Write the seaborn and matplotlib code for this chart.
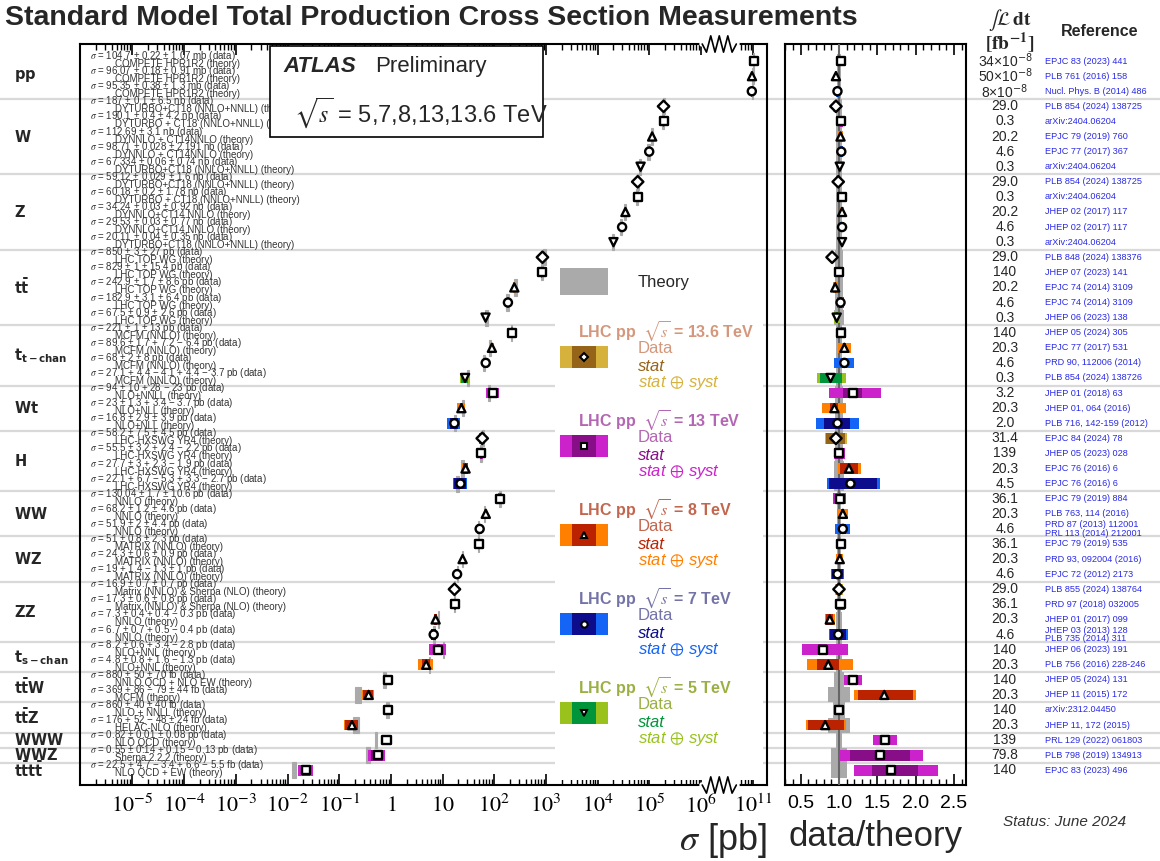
import numpy as np
import pandas as pd
import matplotlib
matplotlib.use("Agg")
import matplotlib.pyplot as plt
import seaborn as sns
from matplotlib.patches import Rectangle
from matplotlib.ticker import NullFormatter

# ---------------- data ----------------
groups = ["pp", "W", "Z", "tt", "tchan", "Wt", "H", "WW", "WZ", "ZZ",
          "schan", "ttW", "ttZ", "WWW", "WWZ", "tttt"]
group_labels = [r"$\mathbf{pp}$", r"$\mathbf{W}$", r"$\mathbf{Z}$", r"$\mathbf{t\bar{t}}$",
                r"$\mathbf{t_{t-chan}}$", r"$\mathbf{Wt}$", r"$\mathbf{H}$", r"$\mathbf{WW}$",
                r"$\mathbf{WZ}$", r"$\mathbf{ZZ}$", r"$\mathbf{t_{s-chan}}$", r"$\mathbf{t\bar{t}W}$",
                r"$\mathbf{t\bar{t}Z}$", r"$\mathbf{WWW}$", r"$\mathbf{WWZ}$",
                r"$\mathbf{t\bar{t}t\bar{t}}$"]
group_sizes = [3, 5, 5, 5, 4, 3, 4, 3, 3, 4, 2, 2, 2, 1, 1, 1]

energy = ["13", "8", "7",
          "13.6", "13", "8", "7", "5",
          "13.6", "13", "8", "7", "5",
          "13.6", "13", "8", "7", "5",
          "13", "8", "7", "5",
          "13", "8", "7",
          "13.6", "13", "8", "7",
          "13", "8", "7",
          "13", "8", "7",
          "13.6", "13", "8", "7",
          "13", "8",
          "13", "8",
          "13", "8",
          "13", "13", "13"]

sigma = [104.7, 96.07, 95.35,
         187, 190.1, 112.69, 98.71, 67.334,
         59.12, 60.18, 34.24, 29.53, 20.11,
         850, 829, 242.9, 182.9, 67.5,
         221, 89.6, 68, 27.1,
         94, 23, 16.8,
         58.2, 55.5, 27.7, 22.1,
         130.04, 68.2, 51.9,
         51, 24.3, 19,
         16.9, 17.3, 7.3, 6.7,
         8.2, 4.8,
         880, 369,
         860, 176,
         0.82, 0.55, 22.5]
unit = ["mb"] * 3 + ["nb"] * 10 + ["pb"] * 28 + ["fb"] * 4 + ["pb"] * 2 + ["fb"]

stat_up = [0.22, 0.18, 0.38, 0.1, 0.4, 0, 0.028, 0.06, 0.029, 0.2, 0.03, 0.03, 0.04,
           3, 1, 1.7, 3.1, 0.9, 1, 1.7, 2, 4.4, 10, 1.3, 2.9, 7.5, 3.2, 3, 6.7,
           1.7, 1.2, 2, 0.8, 0.6, 1.4, 0.7, 0.6, 0.4, 0.7, 0.6, 0.8, 50, 86, 40, 52,
           0.01, 0.14, 4.7]
stat_dn = [0.22, 0.18, 0.38, 0.1, 0.4, 0, 0.028, 0.06, 0.029, 0.2, 0.03, 0.03, 0.04,
           3, 1, 1.7, 3.1, 0.9, 1, 1.7, 2, 4.1, 10, 1.3, 2.9, 7.5, 3.2, 3, 5.3,
           1.7, 1.2, 2, 0.8, 0.6, 1.3, 0.7, 0.6, 0.4, 0.7, 0.6, 0.8, 50, 79, 40, 48,
           0.01, 0.14, 3.4]
syst_up = [1.07, 0.91, 1.3, 6.5, 4.2, 3.1, 2.191, 0.74, 1.6, 1.78, 0.92, 0.77, 0.35,
           27, 15.4, 8.6, 6.4, 2.6, 13, 7.2, 8, 4.4, 28, 3.4, 3.9, 4.5, 2.4, 2.3, 3.3,
           10.6, 4.6, 4.4, 2.3, 0.9, 1, 0.7, 0.8, 0.4, 0.5, 3.4, 1.6, 70, 44, 40, 24,
           0.08, 0.15, 6.6]
syst_dn = [1.07, 0.91, 1.3, 6.5, 4.2, 3.1, 2.191, 0.74, 1.6, 1.78, 0.92, 0.77, 0.35,
           27, 15.4, 8.6, 6.4, 2.6, 13, 6.4, 8, 3.7, 23, 3.7, 3.9, 4.5, 2.2, 1.9, 2.7,
           10.6, 4.6, 4.4, 2.3, 0.9, 1, 0.7, 0.8, 0.3, 0.4, 2.8, 1.3, 70, 44, 40, 24,
           0.08, 0.13, 5.5]

# data/theory and relative theory uncertainty
ratio = [1.03, 0.96, 0.98,
         0.96, 1.03, 1.02, 1.03, 1.01,
         0.99, 1.04, 1.04, 1.04, 1.04,
         0.91, 1.00, 0.95, 1.02, 0.97,
         1.03, 1.07, 1.07, 0.89,
         1.18, 0.94, 0.98,
         0.96, 1.00, 1.13, 1.15,
         1.01, 1.05, 1.05,
         1.03, 1.01, 0.98,
         1.00, 1.02, 0.88, 0.99,
         0.79, 0.86,
         1.18, 1.59,
         1.00, 0.82,
         1.60, 1.53, 1.68]
theory_unc = [0.03, 0.03, 0.03,
              0.045, 0.045, 0.045, 0.045, 0.045,
              0.045, 0.045, 0.045, 0.045, 0.045,
              0.055, 0.055, 0.055, 0.055, 0.06,
              0.04, 0.04, 0.04, 0.04,
              0.05, 0.05, 0.05,
              0.05, 0.05, 0.065, 0.06,
              0.03, 0.03, 0.03,
              0.03, 0.03, 0.03,
              0.03, 0.03, 0.04, 0.04,
              0.035, 0.035,
              0.07, 0.14,
              0.08, 0.14,
              0.04, 0.10, 0.10]

theory_names = (["COMPETE HPR1R2"] * 3 +
                ["DYTURBO+CT18 (NNLO+NNLL)", "DYTURBO + CT18 (NNLO+NNLL)", "DYNNLO + CT14NNLO",
                 "DYNNLO + CT14NNLO", "DYTURBO+CT18 (NNLO+NNLL)"] +
                ["DYTURBO+CT18 (NNLO+NNLL)", "DYTURBO + CT18 (NNLO+NNLL)", "DYNNLO+CT14 NNLO",
                 "DYNNLO+CT14 NNLO", "DYTURBO+CT18 (NNLO+NNLL)"] +
                ["LHC TOP WG"] * 5 + ["MCFM (NNLO)"] * 4 +
                ["NLO+NNLL", "NLO+NLL", "NLO+NLL"] + ["LHC-HXSWG YR4"] * 4 +
                ["NNLO"] * 3 + ["MATRIX (NNLO)"] * 3 +
                ["Matrix (NNLO) & Sherpa (NLO)"] * 2 + ["NNLO"] * 2 +
                ["NLO+NNL"] * 2 + ["NNLO QCD + NLO EW", "MCFM"] + ["NLO + NNLL", "HELAC-NLO"] +
                ["NLO QCD", "Sherpa 2.2.2", "NLO QCD + EW"])

lumi = ["34×10$^{-8}$", "50×10$^{-8}$", "8×10$^{-8}$",
        "29.0", "0.3", "20.2", "4.6", "0.3",
        "29.0", "0.3", "20.2", "4.6", "0.3",
        "29.0", "140", "20.2", "4.6", "0.3",
        "140", "20.3", "4.6", "0.3",
        "3.2", "20.3", "2.0",
        "31.4", "139", "20.3", "4.5",
        "36.1", "20.3", "4.6",
        "36.1", "20.3", "4.6",
        "29.0", "36.1", "20.3", "4.6",
        "140", "20.3",
        "140", "20.3",
        "140", "20.3",
        "139", "79.8", "140"]

references = ["EPJC 83 (2023) 441", "PLB 761 (2016) 158", "Nucl. Phys. B (2014) 486",
              "PLB 854 (2024) 138725", "arXiv:2404.06204", "EPJC 79 (2019) 760",
              "EPJC 77 (2017) 367", "arXiv:2404.06204",
              "PLB 854 (2024) 138725", "arXiv:2404.06204", "JHEP 02 (2017) 117",
              "JHEP 02 (2017) 117", "arXiv:2404.06204",
              "PLB 848 (2024) 138376", "JHEP 07 (2023) 141", "EPJC 74 (2014) 3109",
              "EPJC 74 (2014) 3109", "JHEP 06 (2023) 138",
              "JHEP 05 (2024) 305", "EPJC 77 (2017) 531", "PRD 90, 112006 (2014)",
              "PLB 854 (2024) 138726",
              "JHEP 01 (2018) 63", "JHEP 01, 064 (2016)", "PLB 716, 142-159 (2012)",
              "EPJC 84 (2024) 78", "JHEP 05 (2023) 028", "EPJC 76 (2016) 6", "EPJC 76 (2016) 6",
              "EPJC 79 (2019) 884", "PLB 763, 114 (2016)",
              "PRD 87 (2013) 112001\nPRL 113 (2014) 212001",
              "EPJC 79 (2019) 535", "PRD 93, 092004 (2016)", "EPJC 72 (2012) 2173",
              "PLB 855 (2024) 138764", "PRD 97 (2018) 032005", "JHEP 01 (2017) 099",
              "JHEP 03 (2013) 128\nPLB 735 (2014) 311",
              "JHEP 06 (2023) 191", "PLB 756 (2016) 228-246",
              "JHEP 05 (2024) 131", "JHEP 11 (2015) 172",
              "arXiv:2312.04450", "JHEP 11, 172 (2015)",
              "PRL 129 (2022) 061803", "PLB 798 (2019) 134913", "EPJC 83 (2023) 496"]

energies = ["13.6", "13", "8", "7", "5"]
markers = {"13.6": "D", "13": "s", "8": "^", "7": "o", "5": "v"}
syst_col = {"13.6": "#d6b23c", "13": "#cc22cc", "8": "#ff8000", "7": "#1464f5", "5": "#99c21d"}
stat_col = {"13.6": "#966419", "13": "#880e88", "8": "#bb2200", "7": "#0c0c8c", "5": "#00953a"}
title_col = {"13.6": "#d4977b", "13": "#b366b3", "8": "#c2664e", "7": "#7373a8", "5": "#9bb043"}
GREY = "#aaaaaa"

# ---------------- style ----------------
sns.set_theme(style="white")
plt.rcParams["font.family"] = ["Liberation Sans", "DejaVu Sans"]
plt.rcParams["mathtext.fontset"] = "stix"

df = pd.DataFrame({"group": np.repeat(groups, group_sizes), "energy": energy,
                   "sigma": sigma, "unit": unit, "stat_up": stat_up, "stat_dn": stat_dn,
                   "syst_up": syst_up, "syst_dn": syst_dn, "ratio": ratio,
                   "th_unc": theory_unc})
df["row"] = np.arange(len(df))
to_pb = df["unit"].map({"mb": 1e9, "nb": 1e3, "pb": 1.0, "fb": 1e-3})
# broken axis: 10^11 pb (pp) is drawn where 10^7 would sit
to_pb = to_pb.where(df["group"] != "pp", to_pb / 1e4)
df["x"] = df["sigma"] * to_pb
tot_up = np.hypot(df.stat_up, df.syst_up)
tot_dn = np.hypot(df.stat_dn, df.syst_dn)
theory = df.x / df.ratio


def err_str(up, dn):
    if up == 0 and dn == 0:
        return ""
    if up == dn:
        return f" ± {up:g}"
    return f" + {up:g} − {dn:g}"


W_PX, H_PX = 1160, 861
fig = plt.figure(figsize=(11.6, 8.61), dpi=100)
ax = fig.add_axes([80 / W_PX, 1 - 785 / H_PX, 687 / W_PX, 741 / H_PX])
axr = fig.add_axes([785 / W_PX, 1 - 785 / H_PX, 181 / W_PX, 741 / H_PX])
axr.patch.set_alpha(0)

MS = 34
MEW = 1.7

# ---------------- main panel ----------------
ax.set_xscale("log")
ax.barh(df.row, theory * 2 * df.th_unc, left=theory * (1 - df.th_unc), height=1.07,
        color=GREY, edgecolor=GREY, linewidth=0.8, zorder=2)
ax.barh(df.row, (tot_up + tot_dn) * to_pb, left=df.x - tot_dn * to_pb, height=0.7,
        color=df.energy.map(syst_col), linewidth=0, zorder=3)
ax.barh(df.row, (df.stat_up + df.stat_dn) * to_pb, left=df.x - df.stat_dn * to_pb, height=0.7,
        color=df.energy.map(stat_col), linewidth=0, zorder=4)
sns.scatterplot(data=df, x="x", y="row", style="energy", markers=markers,
                style_order=energies, s=MS, color="white", edgecolor="black",
                linewidth=MEW, legend=False, ax=ax, zorder=5)

ax.set_xlim(10 ** -6.015, 10 ** 7.273)
ax.set_ylim(47.97, -1.13)
ax.set_yticks([])
ax.set_ylabel("")
major = [10.0 ** k for k in range(-5, 8)]
major_labels = ([rf"$10^{{{k}}}$" for k in range(-5, 0)] + [r"$1$", r"$10$"] +
                [rf"$10^{{{k}}}$" for k in range(2, 7)] + [r"$10^{11}$"])
ax.set_xticks(major, major_labels)
minor = [m * 10.0 ** k for k in range(-6, 6) for m in range(2, 10)] + [6e6, 7e6, 8e6, 9e6]
ax.set_xticks(minor, minor=True)
ax.xaxis.set_minor_formatter(NullFormatter())
ax.tick_params(which="both", direction="in", top=True, bottom=True, left=False, right=False,
               colors="black", labelsize=16, pad=7)
ax.tick_params(which="major", length=8, width=1.2)
ax.tick_params(which="minor", length=4, width=1.0)
for sp in ax.spines.values():
    sp.set_color("black")
    sp.set_linewidth(1.5)
ax.set_xlabel(r"$\sigma$ [pb]", fontsize=26, loc="right", labelpad=2)

# axis break between 10^6 and 10^11
trans = ax.get_xaxis_transform()
xb = np.logspace(6.02, 6.68, 9)
for y0 in (0, 1):
    ax.plot([10 ** 6.01, 10 ** 6.69], [y0, y0], color="white", lw=4, transform=trans,
            clip_on=False, zorder=10)
    ax.plot(xb, y0 + np.array([0, -1, 1, -1, 1, -1, 1, -1, 0]) * 0.011, color="black",
            lw=1.2, transform=trans, clip_on=False, zorder=11)

# separators across the whole figure
bounds = np.cumsum(group_sizes)[:-1] - 0.5
ytr = ax.get_yaxis_transform()
for b in bounds:
    ax.plot([-80 / 687, 1080 / 687], [b, b], color="#d9d9d9", lw=1.6, transform=ytr,
            clip_on=False, zorder=0.5)

# process names and per-measurement text
start = np.concatenate([[0], np.cumsum(group_sizes)[:-1]])
for lab, s0, n in zip(group_labels, start, group_sizes):
    ax.text(-66 / 687, s0 + (n - 1) / 2, lab, transform=ytr, ha="left", va="center",
            fontsize=10.5, math_fontfamily="dejavusans", clip_on=False)
for i, r in df.iterrows():
    txt = (rf"$\sigma$ = {r.sigma:g}{err_str(r.stat_up, r.stat_dn)}"
           f"{err_str(r.syst_up, r.syst_dn)} {r.unit} (data)")
    ax.text(10 / 687, r.row - 0.33, txt, transform=ytr, ha="left", va="center",
            fontsize=7.0, color="#333333", zorder=1.5)
    ax.text(35 / 687, r.row + 0.2, theory_names[i] + " (theory)", transform=ytr,
            ha="left", va="center", fontsize=7.0, color="#333333", zorder=1.5)


def axc(px, py):
    return (px - 80) / 687, 1 - (py - 44) / 741


# ATLAS box
ax.add_patch(Rectangle(axc(270, 137), 273 / 687, 91 / 741, transform=ax.transAxes,
                       facecolor="white", edgecolor="black", lw=1.2, zorder=6))
ax.text(*axc(283, 67), "ATLAS", transform=ax.transAxes, fontsize=16, weight="bold",
        style="italic", va="center", zorder=7)
ax.text(*axc(375, 67), "Preliminary", transform=ax.transAxes, fontsize=16, va="center", zorder=7)
ax.text(*axc(294, 113), r"$\sqrt{s}$ = 5,7,8,13,13.6 TeV", transform=ax.transAxes,
        fontsize=17, va="center", zorder=7)

# legend
ax.add_patch(Rectangle(axc(555, 780), 208 / 687, 522 / 741, transform=ax.transAxes,
                       facecolor="white", edgecolor="none", zorder=6))
ax.add_patch(Rectangle(axc(560, 295), 48 / 687, 27 / 741, transform=ax.transAxes,
                       facecolor=GREY, edgecolor="none", zorder=7))
ax.text(*axc(638, 283), "Theory", transform=ax.transAxes, fontsize=12, va="center", zorder=7)
for k, e in enumerate(energies):
    dy = 89.1 * k
    ax.text(*axc(578, 331.5 + dy), rf"LHC pp  $\sqrt{{s}}$ = {e} TeV", transform=ax.transAxes,
            fontsize=11.5, weight="bold", color=title_col[e], va="center", zorder=7)
    ax.add_patch(Rectangle(axc(560, 368 + dy), 48 / 687, 22 / 741, transform=ax.transAxes,
                           facecolor=syst_col[e], edgecolor="none", zorder=7))
    ax.add_patch(Rectangle(axc(572, 368 + dy), 24 / 687, 22 / 741, transform=ax.transAxes,
                           facecolor=stat_col[e], edgecolor="none", zorder=7))
    ax.plot(*axc(584, 357 + dy), marker=markers[e], ms=4.5, mfc="white", mec="black",
            mew=1.5, transform=ax.transAxes, zorder=8)
    ax.text(*axc(638, 348.5 + dy), "Data", transform=ax.transAxes, fontsize=12,
            color=title_col[e], va="center", zorder=7)
    ax.text(*axc(638, 366.5 + dy), "stat", transform=ax.transAxes, fontsize=12,
            style="italic", color=stat_col[e], va="center", zorder=7)
    ax.text(*axc(638, 382.7 + dy), r"stat $\oplus$ syst", transform=ax.transAxes,
            fontsize=12, style="italic", color=syst_col[e], va="center", zorder=7)

# ---------------- ratio panel ----------------
axr.barh(df.row, 2 * df.th_unc, left=1 - df.th_unc, height=1.0, color=GREY, linewidth=0,
         zorder=2)
axr.axvline(1.0, color="#666666", lw=1.5, zorder=3)
axr.barh(df.row, df.ratio * (tot_up + tot_dn) / df.sigma,
         left=df.ratio * (1 - tot_dn / df.sigma), height=0.7,
         color=df.energy.map(syst_col), linewidth=0, zorder=4)
axr.barh(df.row, df.ratio * (df.stat_up + df.stat_dn) / df.sigma,
         left=df.ratio * (1 - df.stat_dn / df.sigma), height=0.7,
         color=df.energy.map(stat_col), linewidth=0, zorder=5)
sns.scatterplot(data=df, x="ratio", y="row", style="energy", markers=markers,
                style_order=energies, s=MS, color="white", edgecolor="black",
                linewidth=MEW, legend=False, ax=axr, zorder=6)
axr.set_xlim(0.296, 2.656)
axr.set_ylim(47.97, -1.13)
axr.set_yticks([])
axr.set_ylabel("")
axr.set_xticks([0.5, 1.0, 1.5, 2.0, 2.5])
axr.set_xticks(np.arange(0.3, 2.65, 0.1), minor=True)
axr.tick_params(which="both", direction="in", top=True, bottom=True, left=False, right=False,
                colors="black", labelsize=14, pad=7)
axr.tick_params(which="major", length=8, width=1.2)
axr.tick_params(which="minor", length=4, width=1.0)
for sp in axr.spines.values():
    sp.set_color("black")
    sp.set_linewidth(1.5)
axr.set_xlabel("data/theory", fontsize=25, labelpad=6)

# luminosity and reference columns
rtr = axr.get_yaxis_transform()
for i, r in df.iterrows():
    axr.text(220 / 181, r.row, lumi[i], transform=rtr, ha="center", va="center",
             fontsize=10, math_fontfamily="dejavusans", clip_on=False)
    axr.text(260 / 181, r.row, references[i], transform=rtr, ha="left", va="center",
             fontsize=6.6, color="#2a2ae6", linespacing=0.9, clip_on=False)

fig.text(1010 / W_PX, 1 - 20 / H_PX, r"$\int\mathcal{L}\,\mathbf{dt}$", ha="center",
         va="center", fontsize=14)
fig.text(1010 / W_PX, 1 - 43 / H_PX, r"$\mathbf{[fb^{-1}]}$", ha="center", va="center",
         fontsize=14)
fig.text(1100 / W_PX, 1 - 31 / H_PX, "Reference", ha="center", va="center", fontsize=11.5,
         weight="bold")
fig.text(5 / W_PX, 1 - 18 / H_PX, "Standard Model Total Production Cross Section Measurements",
         ha="left", va="center", fontsize=20.5, weight="bold")
fig.text(1065 / W_PX, 1 - 822 / H_PX, "Status: June 2024", ha="center", va="center",
         fontsize=11, style="italic", color="#333333")

fig.savefig("out.png", dpi=100)
